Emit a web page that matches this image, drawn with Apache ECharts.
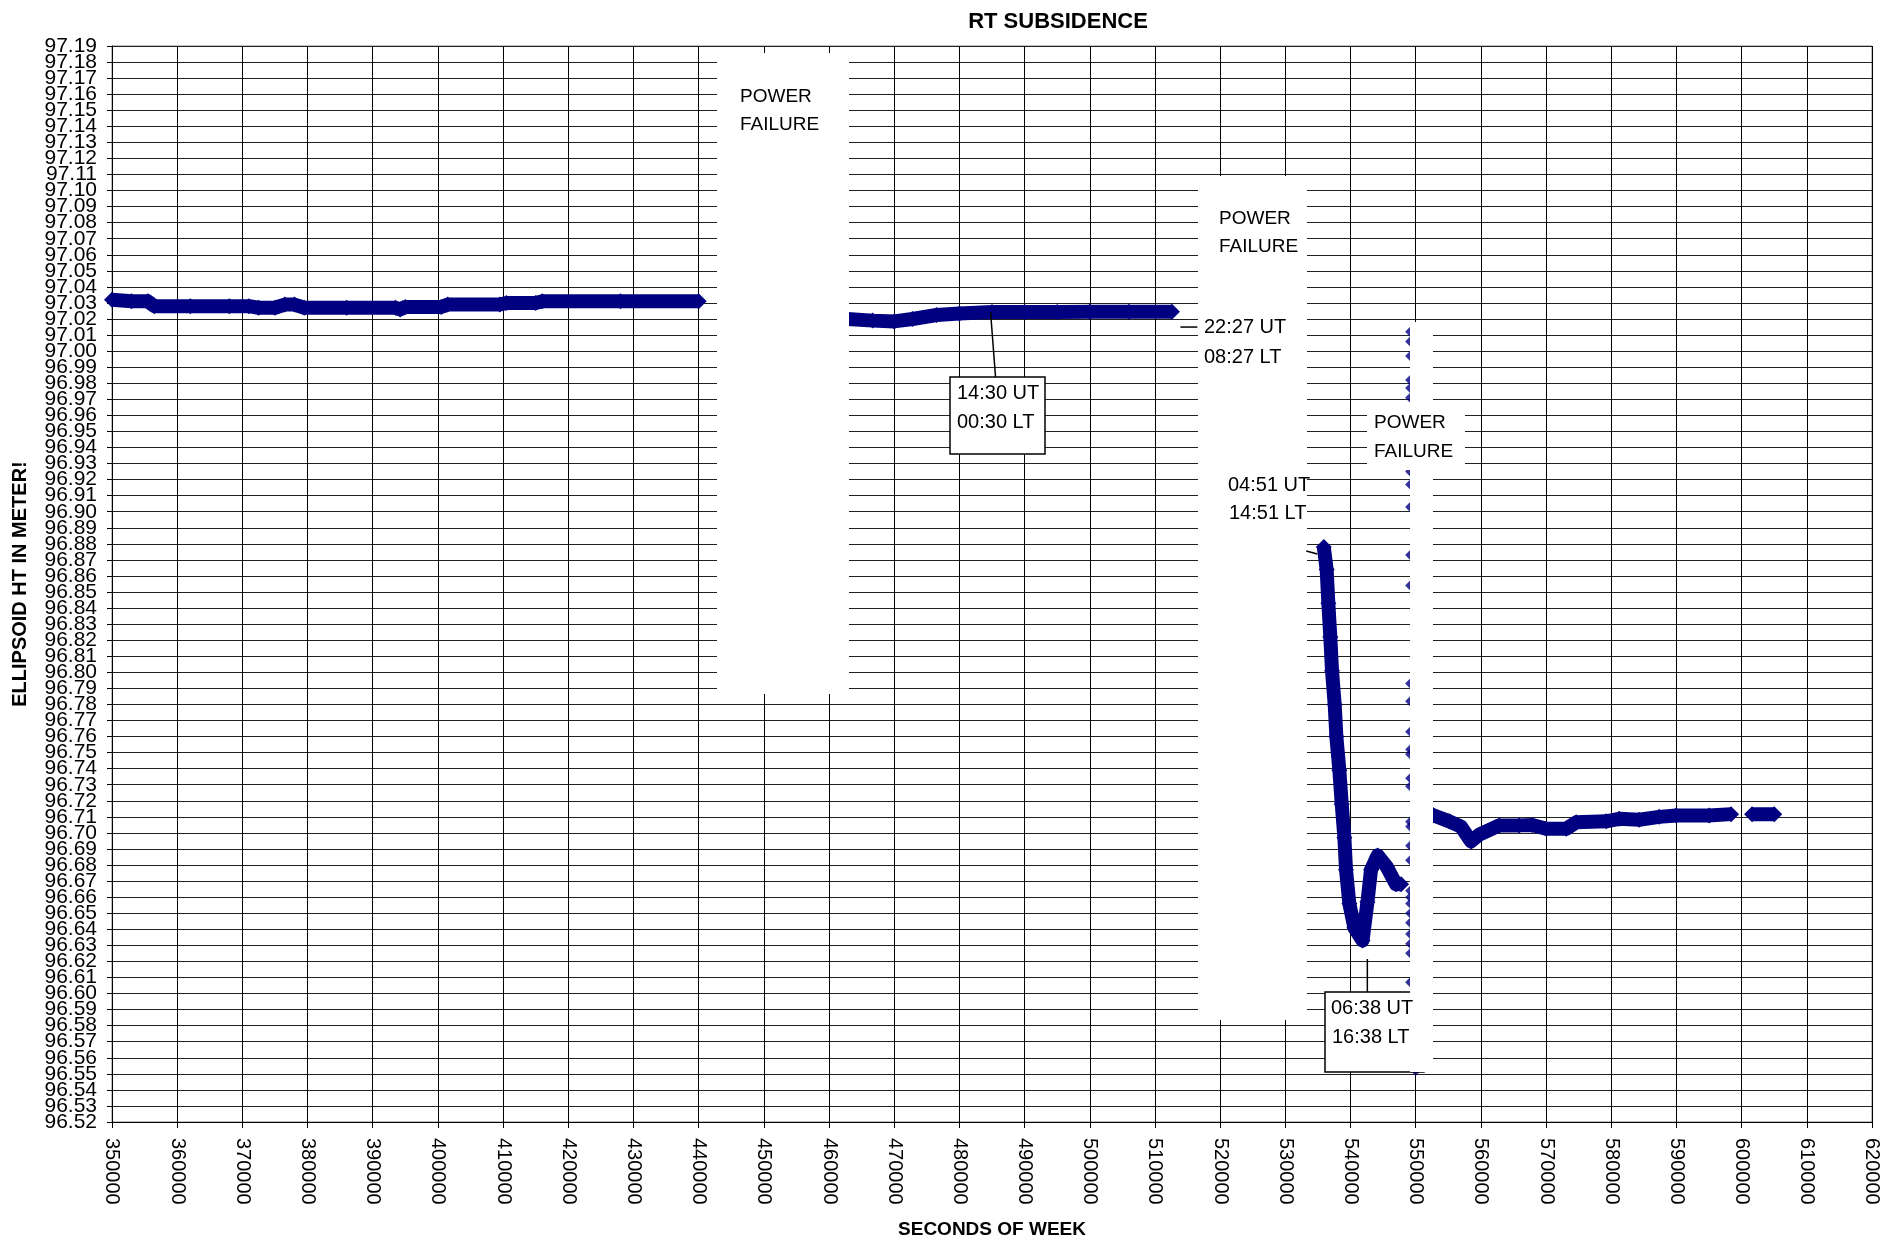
<!DOCTYPE html>
<html>
<head>
<meta charset="utf-8">
<title>RT SUBSIDENCE</title>
<script src="https://cdn.jsdelivr.net/npm/echarts@6/dist/echarts.min.js"></script>
<style>
  html, body { margin: 0; padding: 0; background: #fff; }
  #chart { width: 1882px; height: 1248px; }
</style>
</head>
<body>
<div id="chart"></div>
<script>
// Ellipsoid height (m) against GPS seconds of week, recorded in four runs
// separated by power failures.

const run1Seconds = [350000, 353000, 355500, 356500, 362000, 368000, 371000, 372500, 375000, 376500,
  378000, 379500, 386000, 393500, 394200, 395000, 400500, 401500, 409500, 410500, 415000, 416000,
  428000, 440000];
const run1Height = [97.032, 97.031, 97.031, 97.028, 97.028, 97.028, 97.028, 97.027, 97.027, 97.029,
  97.029, 97.027, 97.027, 97.027, 97.026, 97.0275, 97.0275, 97.029, 97.029, 97.030, 97.030, 97.031,
  97.031, 97.031];

const run2Seconds = [462800, 466700, 470000, 472800, 476500, 480000, 485000, 490000, 495000, 500000,
  506000, 512600];
const run2Height = [97.020, 97.019, 97.0185, 97.020, 97.0225, 97.0235, 97.0243, 97.0243, 97.0244,
  97.0245, 97.0245, 97.0245];

const run3Seconds = [535900, 536340, 536600, 536900, 537160, 537570, 537830, 538290, 538650, 539060,
  539310, 539820, 540590, 541840, 542600, 543140, 544160, 545540, 546980, 547750];
const run3Height = [96.878, 96.864, 96.843, 96.822, 96.801, 96.780, 96.760, 96.739, 96.718, 96.697,
  96.677, 96.656, 96.641, 96.633, 96.657, 96.677, 96.686, 96.679, 96.668, 96.668];

const run4Seconds = [551500, 552700, 555150, 556950, 558480, 559750, 562820, 565880, 567880, 570020,
  573090, 574620, 579220, 581210, 584280, 587350, 589950, 595010, 598380, null, 601600, 605000];
const run4Height = [96.713, 96.711, 96.7072, 96.7039, 96.6947, 96.6989, 96.7047, 96.7047, 96.705,
  96.7026, 96.7026, 96.7066, 96.7072, 96.7088, 96.7082, 96.710, 96.7109, 96.7109, 96.7117, null,
  96.7117, 96.7117];

// Scattered fixes logged while power was coming back near 550000 s
const restartSeconds = [549450, 549450, 549450, 549450, 549450, 549450, 549450, 549450, 549450,
  549450, 549450, 549450, 549450, 549450, 549450, 549450, 549450, 549450, 549450, 549450, 549450,
  549450, 549450, 549450, 549450, 549450, 549450, 549450, 549450, 549450, 549450, 550000];
const restartHeight = [97.012, 97.006, 96.997, 96.982, 96.977, 96.971, 96.925, 96.917, 96.903,
  96.873, 96.854, 96.793, 96.782, 96.763, 96.752, 96.749, 96.734, 96.729, 96.707, 96.704, 96.692,
  96.683, 96.664, 96.660, 96.656, 96.650, 96.644, 96.637, 96.631, 96.625, 96.607, 96.553];

// Height tick labels, bottom to top (one per centimetre)
const heightTickLabels = [
  '96.52', '96.53', '96.54', '96.55', '96.56', '96.57', '96.58', '96.59',
  '96.60', '96.61', '96.62', '96.63', '96.64', '96.65', '96.66', '96.67', '96.68', '96.69',
  '96.70', '96.71', '96.72', '96.73', '96.74', '96.75', '96.76', '96.77', '96.78', '96.79',
  '96.80', '96.81', '96.82', '96.83', '96.84', '96.85', '96.86', '96.87', '96.88', '96.89',
  '96.90', '96.91', '96.92', '96.93', '96.94', '96.95', '96.96', '96.97', '96.98', '96.99',
  '97.00', '97.01', '97.02', '97.03', '97.04', '97.05', '97.06', '97.07', '97.08', '97.09',
  '97.10', '97.11', '97.12', '97.13', '97.14', '97.15', '97.16', '97.17', '97.18', '97.19'
];

// Axis ranges
const xMin = 350000, xMax = 620000, xStep = 10000;
const yMin = 96.52, yMax = 97.19, yStep = 0.01;

const FONT = '"Liberation Sans", Arial, Helvetica, sans-serif';
const NAVY = '#000080';

function pairs(xs, ys) {
  return xs.map((x, i) => (x === null ? [null, null] : [x, ys[i]]));
}

// One continuous trace with breaks where the receiver lost power
const traceData = []
  .concat(pairs(run1Seconds, run1Height), [[null, null]])
  .concat(pairs(run2Seconds, run2Height), [[null, null]])
  .concat(pairs(run3Seconds, run3Height), [[null, null]])
  .concat(pairs(run4Seconds, run4Height));

const chart = echarts.init(document.getElementById('chart'), null, { renderer: 'canvas' });

chart.setOption({
  animation: false,
  backgroundColor: '#fff',
  textStyle: { fontFamily: FONT },
  title: {
    text: 'RT SUBSIDENCE',
    left: 1053,
    top: 6,
    textAlign: 'center',
    textStyle: { fontFamily: FONT, fontSize: 22, fontWeight: 'bold', color: '#000' }
  },
  grid: { left: 112, right: 9, top: 46, bottom: 126, containLabel: false,
          show: true, borderColor: '#808080', borderWidth: 1 },
  xAxis: {
    type: 'value',
    min: xMin, max: xMax, interval: xStep,
    name: 'SECONDS OF WEEK',
    nameLocation: 'middle',
    nameGap: 98,
    nameTextStyle: { fontFamily: FONT, fontSize: 19, fontWeight: 'bold', color: '#000' },
    axisLine: { show: true, lineStyle: { color: '#000', width: 1 } },
    axisTick: { show: true, inside: false, length: 6, lineStyle: { color: '#000' } },
    axisLabel: { rotate: -90, margin: 16, fontSize: 20, color: '#000', fontFamily: FONT,
                 showMinLabel: true, showMaxLabel: true,
                 formatter: v => String(Math.round(v)) },
    splitLine: { show: true, lineStyle: { color: '#000', width: 1 } }
  },
  yAxis: [
    {
      // value scale used by the data
      type: 'value',
      min: yMin, max: yMax, interval: yStep,
      name: 'ELLIPSOID HT IN METER!',
      nameLocation: 'middle',
      nameRotate: 90,
      nameGap: 82,
      nameTextStyle: { fontFamily: FONT, fontSize: 20, fontWeight: 'bold', color: '#000' },
      axisLine: { show: true, lineStyle: { color: '#000', width: 1 } },
      axisTick: { show: true, inside: false, length: 5, lineStyle: { color: '#000' } },
      axisLabel: { show: false },
      splitLine: { show: true, lineStyle: { color: '#222', width: 1 } }
    },
    {
      // label track: every centimetre is written, even where the glyphs crowd
      type: 'category',
      position: 'left',
      data: heightTickLabels,
      boundaryGap: false,
      axisLine: { show: false },
      axisTick: { show: false },
      splitLine: { show: false },
      axisLabel: { interval: 0, margin: 15, fontSize: 21, color: '#000', fontFamily: FONT,
                   hideOverlap: false }
    }
  ],
  series: [
    {
      name: 'Ellipsoid height',
      type: 'line',
      data: traceData,
      connectNulls: false,
      showSymbol: true,
      showAllSymbol: true,
      symbol: 'diamond',
      symbolSize: 16,
      lineStyle: { color: NAVY, width: 14, join: 'round' },
      itemStyle: { color: NAVY, borderWidth: 0 },
      z: 3
    },
    {
      name: 'Restart fixes',
      type: 'scatter',
      data: pairs(restartSeconds, restartHeight),
      symbol: 'diamond',
      symbolSize: 14,
      itemStyle: { color: NAVY },
      z: 3
    }
  ]
});

// Annotation layer, placed in axis units and converted to pixels.
// Blank panels hide the chart where the power failed.
const blankPanels = [
  [442760, 97.1856, 463000, 96.7865],
  [516660, 97.109, 533370, 96.5835],
  [549170, 97.0181, 552700, 96.5511],
  [542575, 96.9665, 557600, 96.926]
];
// Framed call-outs with their pointer lines
const framedNotes = [
  { box: [478490, 96.9839, 493060, 96.936], pointer: [[484780, 97.0244], [485540, 96.9839]] },
  { box: [536140, 96.601, 551320, 96.551], pointer: [[542580, 96.6215], [542580, 96.601]] }
];
// Free pointer lines
const pointerLines = [
  [[513900, 97.015], [516510, 97.015]],
  [[533220, 96.8756], [534910, 96.8737]]
];
// Note text: [text, seconds, height, font size]
const notes = [
  ['POWER', 446290, 97.1582, 19],
  ['FAILURE', 446290, 97.1408, 19],
  ['POWER', 519880, 97.0823, 19],
  ['FAILURE', 519880, 97.0649, 19],
  ['POWER', 543650, 96.9553, 19],
  ['FAILURE', 543650, 96.9372, 19],
  ['22:27 UT', 517580, 97.015, 20],
  ['08:27 LT', 517580, 96.9964, 20],
  ['04:51 UT', 521260, 96.9166, 20],
  ['14:51 LT', 521410, 96.8992, 20],
  ['14:30 UT', 479560, 96.974, 20],
  ['00:30 LT', 479560, 96.9559, 20],
  ['06:38 UT', 537060, 96.591, 20],
  ['16:38 LT', 537210, 96.573, 20]
];

function px(x, y) {
  return chart.convertToPixel({ xAxisIndex: 0, yAxisIndex: 0 }, [x, y]);
}
function rectShape(b) {
  const a = px(b[0], b[1]);
  const c = px(b[2], b[3]);
  return { x: Math.round(a[0]), y: Math.round(a[1]),
           width: Math.round(c[0] - a[0]), height: Math.round(c[1] - a[1]) };
}

const graphics = [];
framedNotes.forEach(n => {
  graphics.push({ type: 'rect', z: 20, shape: rectShape(n.box),
                  style: { fill: '#fff', stroke: '#000', lineWidth: 1.5 } });
  const p1 = px(n.pointer[0][0], n.pointer[0][1]);
  const p2 = px(n.pointer[1][0], n.pointer[1][1]);
  graphics.push({ type: 'line', z: 20,
                  shape: { x1: p1[0], y1: p1[1], x2: p2[0], y2: p2[1] },
                  style: { stroke: '#000', lineWidth: 1.5 } });
});
blankPanels.forEach((b, i) => {
  graphics.push({ type: 'rect', z: 30 + i, shape: rectShape(b),
                  style: { fill: '#fff', stroke: null } });
});
pointerLines.forEach(l => {
  const p1 = px(l[0][0], l[0][1]);
  const p2 = px(l[1][0], l[1][1]);
  graphics.push({ type: 'line', z: 40,
                  shape: { x1: p1[0], y1: p1[1], x2: p2[0], y2: p2[1] },
                  style: { stroke: '#000', lineWidth: 1.5 } });
});
notes.forEach(n => {
  const p = px(n[1], n[2]);
  graphics.push({ type: 'text', z: 50, x: Math.round(p[0]), y: Math.round(p[1]),
                  style: { text: n[0], fill: '#000', font: n[3] + 'px ' + FONT,
                           textAlign: 'left', textVerticalAlign: 'middle' } });
});

chart.setOption({ graphic: graphics });
</script>
</body>
</html>
